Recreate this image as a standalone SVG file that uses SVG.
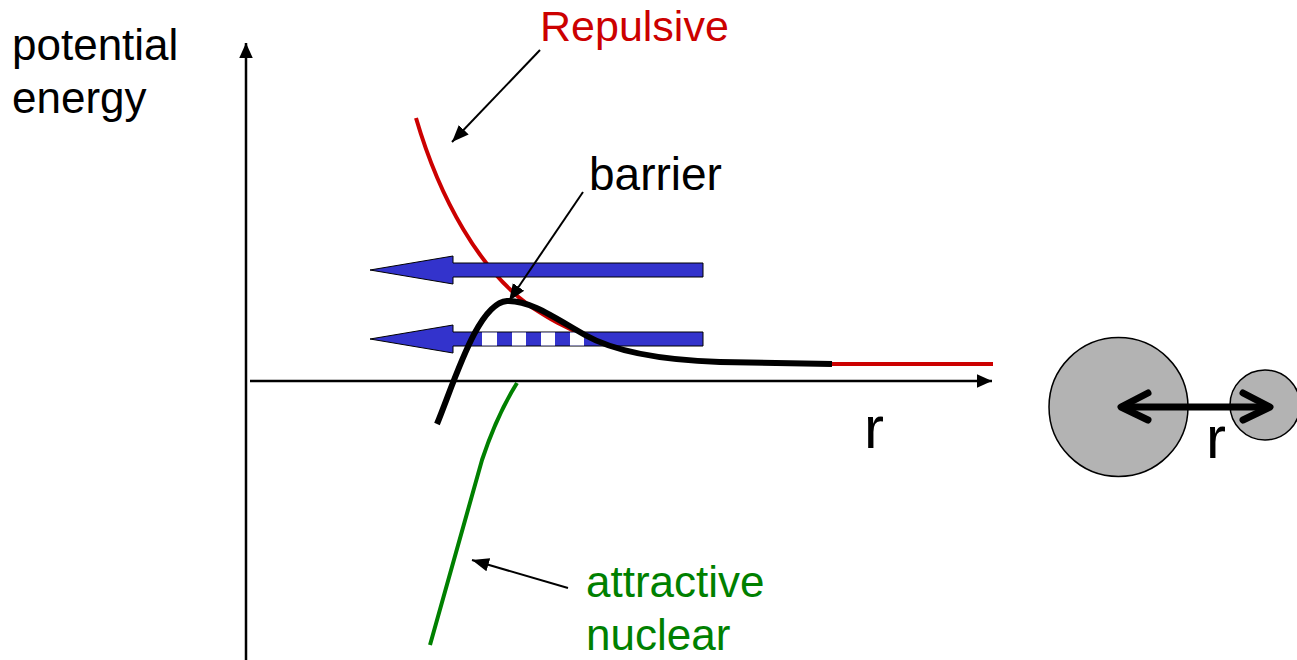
<svg xmlns="http://www.w3.org/2000/svg" width="1297" height="660" viewBox="0 0 1297 660">
<style>
text{font-family:"Liberation Sans",Arial,sans-serif;}
.lbl{font-size:44px;fill:#000;}
.red{fill:#CC0000;}
.grn{fill:#008000;}
.big{font-size:60px;}
.ax{stroke:#000;stroke-width:2.5;fill:none;}
.ann{stroke:#000;stroke-width:2;fill:none;}
.blue{fill:#3333CC;stroke:#000;stroke-width:1;}
.atom{fill:#B3B3B3;stroke:#000;stroke-width:1.5;}
</style>
<defs>
<marker id="ahAx" viewBox="0 0 10 10" refX="10" refY="5" markerWidth="15" markerHeight="15" orient="auto" markerUnits="userSpaceOnUse">
<path d="M0,0.5 L10,5 L0,9.5 z" fill="#000"/>
</marker>
<marker id="ahAnn" viewBox="0 0 10 10" refX="10" refY="5" markerWidth="17" markerHeight="17" orient="auto" markerUnits="userSpaceOnUse">
<path d="M0,1 L10,5 L0,9 z" fill="#000"/>
</marker>
</defs>

<g id="axes">
<line class="ax" x1="246" y1="660" x2="246" y2="43" marker-end="url(#ahAx)"/>
<line class="ax" x1="250" y1="381" x2="992" y2="381" marker-end="url(#ahAx)"/>
</g>

<g id="repulsive-curve">
<path d="M416,118 C440,200 480,270 530,306 C550,319 565,328 585,335 C615,352 660,360 720,362 L832,364 L993,364" fill="none" stroke="#CC0000" stroke-width="4"/>
</g>

<g id="green-curve">
<path d="M517,383 Q497,415 482,460 L430,645" fill="none" stroke="#008000" stroke-width="4"/>
</g>

<g id="blue-arrow-upper">
<polygon class="blue" points="370,270 453,256 453,263 703,263 703,277 453,277 453,284"/>
</g>

<g id="blue-arrow-lower">
<polygon class="blue" points="370,339 453,325 453,332 703,332 703,346 453,346 453,353"/>
<g fill="#fff">
<rect x="482" y="332.5" width="15" height="13"/>
<rect x="512" y="332.5" width="14" height="13"/>
<rect x="541" y="332.5" width="14" height="13"/>
<rect x="570" y="332.5" width="14" height="13"/>
</g>
</g>

<g id="barrier-curve">
<path d="M437,424 C455,380 478,303 507,301 C530,300 555,318 585,335 C615,352 660,360 720,362 L832,364" fill="none" stroke="#000" stroke-width="6"/>
</g>

<g id="connectors">
<line class="ann" x1="540" y1="50" x2="452" y2="142" marker-end="url(#ahAnn)"/>
<line class="ann" x1="583" y1="192" x2="509" y2="301" stroke-width="3" marker-end="url(#ahAnn)"/>
<line class="ann" x1="568" y1="588" x2="472" y2="560" marker-end="url(#ahAnn)"/>
</g>

<g id="label-potential">
<text class="lbl" x="12" y="60">potential</text>
<text class="lbl" x="12" y="113">energy</text>
</g>
<g id="label-repulsive">
<text class="lbl red" x="540" y="41" style="font-size:43px">Repulsive</text>
</g>
<g id="label-barrier">
<text class="lbl" x="589" y="190" style="font-size:46px">barrier</text>
</g>
<g id="label-attractive">
<text class="lbl grn" x="586" y="597">attractive</text>
<text class="lbl grn" x="586" y="650">nuclear</text>
</g>
<g id="label-r">
<text class="big" x="864" y="448">r</text>
</g>

<g id="atoms">
<circle class="atom" cx="1118.5" cy="407" r="69.5"/>
<circle class="atom" cx="1265" cy="405" r="35"/>
<g stroke="#000" stroke-width="7" fill="none" stroke-linecap="round" stroke-linejoin="round">
<line x1="1124" y1="407" x2="1266" y2="407"/>
<polyline points="1148,393 1121,407 1148,420"/>
<polyline points="1243,393 1270,407 1243,420"/>
</g>
<text class="big" x="1206" y="458">r</text>
</g>
</svg>
